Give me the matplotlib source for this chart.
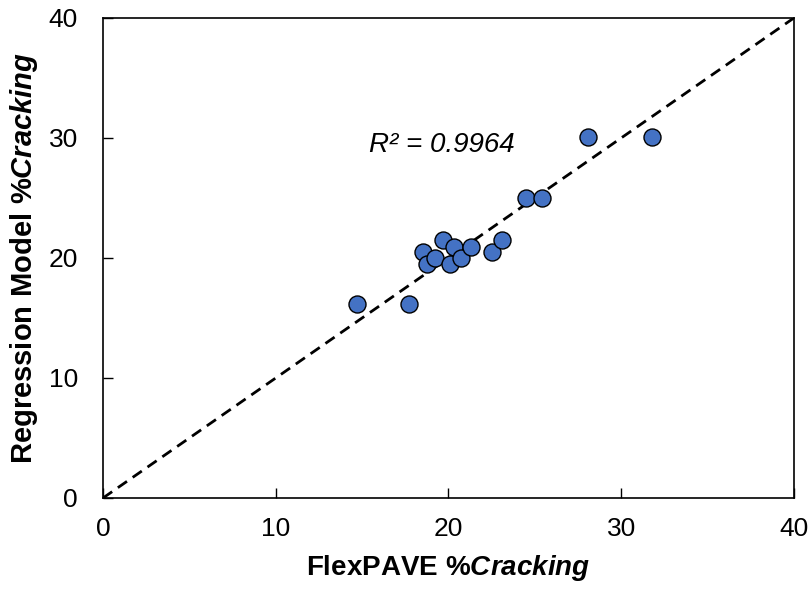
import matplotlib
matplotlib.use("Agg")
import matplotlib.pyplot as plt
import numpy as np

plt.rcParams['font.family'] = ['Liberation Sans', 'DejaVu Sans']
plt.rcParams['mathtext.fontset'] = 'custom'
plt.rcParams['mathtext.rm'] = 'Liberation Sans:bold'
plt.rcParams['mathtext.bf'] = 'Liberation Sans:bold'
plt.rcParams['mathtext.it'] = 'Liberation Sans:italic:bold'

# FlexPAVE vs regression model %Cracking
flexpave = [14.7, 17.7, 18.5, 18.75, 19.2, 19.7, 20.3, 20.1, 20.7, 21.3, 22.5, 23.1,
            24.5, 25.4, 28.1, 31.8]
regression = [16.2, 16.2, 20.5, 19.5, 20.0, 21.5, 20.9, 19.5, 20.0, 20.9, 20.5, 21.5,
              25.0, 25.0, 30.1, 30.1]
r2 = 0.9964
ticks = [0, 10, 20, 30, 40]

fig = plt.figure(figsize=(8.08, 5.92), dpi=100)
ax = fig.add_axes([0.1275, 0.1588, 0.855, 0.8108])

ax.plot([0, 40], [0, 40], linestyle=(0, (4, 2.5)), color='black', linewidth=2, zorder=1)
ax.scatter(flexpave, regression, s=150, color='#4472C4', edgecolor='black',
           linewidth=1, zorder=3)

ax.text(15.4, 29.4, 'R² = %.4f' % r2, fontsize=20, fontstyle='italic',
        va='center', ha='left')

ax.set_xlim(0, 40)
ax.set_ylim(0, 40)
ax.set_xticks(ticks)
ax.set_yticks(ticks)
ax.tick_params(direction='in', length=7, width=1, labelsize=19)
ax.tick_params(axis='x', pad=14)
ax.tick_params(axis='y', pad=18)
for sp in ax.spines.values():
    sp.set_linewidth(1.2)

ax.set_xlabel(r'$\mathbf{FlexPAVE}\ \mathit{\%Cracking}$', fontsize=20, labelpad=8)
ax.set_ylabel(r'$\mathbf{Regression\ Model}\ \mathit{\%Cracking}$', fontsize=21, labelpad=6)

fig.savefig('out.png', dpi=100)
